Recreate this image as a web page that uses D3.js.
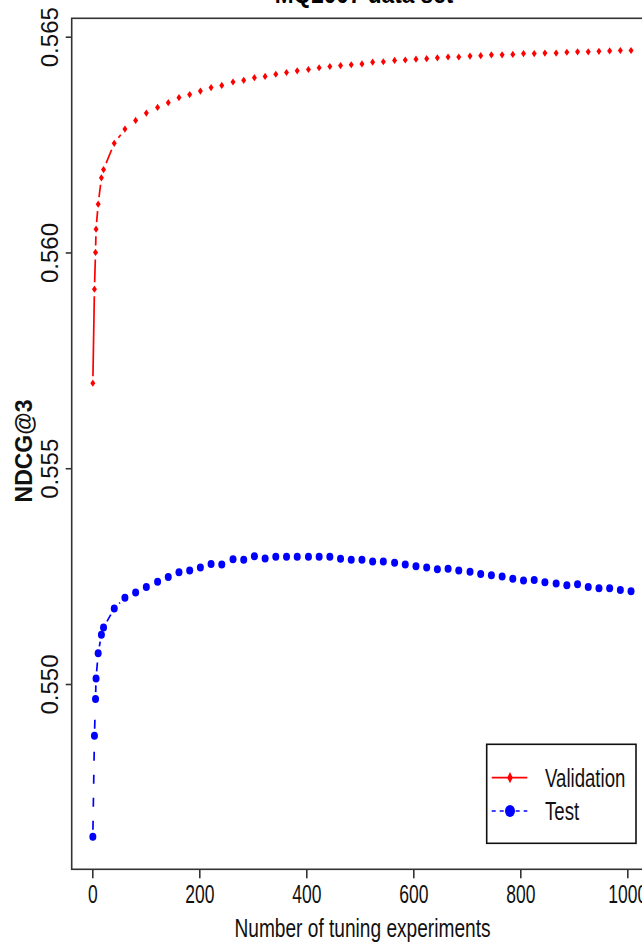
<!DOCTYPE html>
<html>
<head>
<meta charset="utf-8">
<script src="https://cdn.jsdelivr.net/npm/d3@7"></script>
<style>
  body { margin: 0; background: #fff; }
  svg { display: block; }
</style>
</head>
<body>
<script>
// size of the page
var width = 642;
var height = 945;

// number of tuning experiments at each plotted point
var experiments = [1, 4, 6, 7, 11, 17, 21,
    41, 61, 81, 101, 122, 142, 162, 182, 202, 222,
    242, 263, 283, 303, 323, 343, 363, 383, 404, 424,
    444, 464, 484, 504, 524, 544, 565, 585, 605, 625,
    645, 665, 685, 706, 726, 746, 766, 786, 806, 826,
    846, 867, 887, 907, 927, 947, 967, 987, 1007];

// NDCG@3 on the validation set
var validation = [0.55697, 0.55915, 0.56000, 0.56054, 0.56112, 0.56173, 0.56192,
    0.56253, 0.56286, 0.56306, 0.56323, 0.56336, 0.56347, 0.56359, 0.56366, 0.56374,
    0.56382, 0.56387, 0.56395, 0.56399, 0.56405, 0.56408, 0.56413, 0.56417, 0.56421, 0.56424,
    0.56428, 0.56431, 0.56433, 0.56435, 0.56437, 0.56441, 0.56442, 0.56445, 0.56446, 0.56448,
    0.56449, 0.56451, 0.56453, 0.56453, 0.56455, 0.56456, 0.56458, 0.56458, 0.56459, 0.56461,
    0.56461, 0.56462, 0.56462, 0.56464, 0.56465, 0.56465, 0.56466, 0.56467, 0.56468, 0.56468];

// NDCG@3 on the test set
var test = [0.54646, 0.54880, 0.54965, 0.55013, 0.55071, 0.55114, 0.55131,
    0.55175, 0.55200, 0.55212, 0.55225, 0.55237, 0.55248, 0.55259, 0.55263, 0.55270,
    0.55278, 0.55277, 0.55289, 0.55288, 0.55296, 0.55291, 0.55295, 0.55295, 0.55295, 0.55295,
    0.55295, 0.55295, 0.55290, 0.55288, 0.55288, 0.55284, 0.55284, 0.55281, 0.55277, 0.55273,
    0.55270, 0.55266, 0.55267, 0.55263, 0.55260, 0.55255, 0.55252, 0.55249, 0.55244, 0.55240,
    0.55241, 0.55236, 0.55233, 0.55229, 0.55231, 0.55225, 0.55222, 0.55222, 0.55218, 0.55215];

var xTicks = [0, 200, 400, 600, 800, 1000];
var yTicks = [0.550, 0.555, 0.560, 0.565];
var seriesNames = ["Validation", "Test"];

var titleText = "MQ2007 data set";
var xTitle = "Number of tuning experiments";
var yTitle = "NDCG@3";

// the picture is squeezed sideways, so the upright texts get a scaleX
var sans = "'Liberation Sans', Arial, Helvetica, sans-serif";

// plot box (right side runs off the page)
var box = {left: 71.7, top: 18.3, right: 700, bottom: 869.3};

var x = d3.scaleLinear().domain([0, 1000]).range([92.3, 627.3]);
var y = d3.scaleLinear().domain([0.550, 0.565]).range([684, 36.7]);

var svg = d3.select("body")
    .append("svg")
    .attr("width", width)
    .attr("height", height);

svg.append("rect")
    .attr("width", width)
    .attr("height", height)
    .attr("fill", "#fff");

// R type="b": segments between points, cut short near each point
var gap = 7;
function gapped(values) {
    var pts = experiments.map(function (e, i) { return [x(e), y(values[i])]; });
    var segs = [];
    d3.pairs(pts).forEach(function (p) {
        var dx = p[1][0] - p[0][0], dy = p[1][1] - p[0][1];
        var len = Math.sqrt(dx * dx + dy * dy);
        if (len <= 2 * gap) return;
        var ux = dx / len, uy = dy / len;
        segs.push([p[0][0] + ux * gap, p[0][1] + uy * gap, p[1][0] - ux * gap, p[1][1] - uy * gap]);
    });
    return segs;
}

var diamond = function (w, h) {
    return "M0," + (-h) + "L" + w + ",0L0," + h + "L" + (-w) + ",0Z";
};

// validation line + diamonds
svg.append("g").selectAll("line")
    .data(gapped(validation))
    .enter().append("line")
    .attr("x1", function (d) { return d[0]; })
    .attr("y1", function (d) { return d[1]; })
    .attr("x2", function (d) { return d[2]; })
    .attr("y2", function (d) { return d[3]; })
    .attr("stroke", "#ff0000")
    .attr("stroke-width", 1.7);

svg.append("g").selectAll("path")
    .data(validation)
    .enter().append("path")
    .attr("d", diamond(2.5, 3.6))
    .attr("transform", function (d, i) { return "translate(" + x(experiments[i]) + "," + y(d) + ")"; })
    .attr("fill", "#ff0000");

// test line + circles
svg.append("g").selectAll("line")
    .data(gapped(test))
    .enter().append("line")
    .attr("x1", function (d) { return d[0]; })
    .attr("y1", function (d) { return d[1]; })
    .attr("x2", function (d) { return d[2]; })
    .attr("y2", function (d) { return d[3]; })
    .attr("stroke", "#0000ff")
    .attr("stroke-width", 1.7)
    .attr("stroke-dasharray", "9,14");

svg.append("g").selectAll("ellipse")
    .data(test)
    .enter().append("ellipse")
    .attr("cx", function (d, i) { return x(experiments[i]); })
    .attr("cy", function (d) { return y(d); })
    .attr("rx", 3.5)
    .attr("ry", 4)
    .attr("fill", "#0000ff");

// box
svg.append("rect")
    .attr("x", box.left)
    .attr("y", box.top)
    .attr("width", box.right - box.left)
    .attr("height", box.bottom - box.top)
    .attr("fill", "none")
    .attr("stroke", "#333")
    .attr("stroke-width", 1.6);

// x axis
var xAxis = svg.append("g")
    .attr("transform", "translate(0," + box.bottom + ")")
    .call(d3.axisBottom(x).tickValues(xTicks).tickSize(9).tickFormat(d3.format("d")));
xAxis.select(".domain").remove();
xAxis.selectAll("line").attr("stroke", "#333").attr("stroke-width", 1.6);
xAxis.selectAll("text")
    .attr("y", 34)
    .attr("dy", null)
    .attr("transform", "scale(0.7,1)")
    .attr("fill", "#111")
    .style("font-family", sans)
    .style("font-size", "25px");

// y axis
var yAxis = svg.append("g")
    .attr("transform", "translate(" + box.left + ",0)")
    .call(d3.axisLeft(y).tickValues(yTicks).tickSize(6).tickFormat(d3.format(".3f")));
yAxis.select(".domain").remove();
yAxis.selectAll("line").attr("stroke", "#333").attr("stroke-width", 1.6);
yAxis.selectAll("text")
    .attr("x", 0)
    .attr("dy", null)
    .attr("transform", "translate(-13.4,0) rotate(-90)")
    .attr("text-anchor", "middle")
    .attr("fill", "#111")
    .style("font-family", sans)
    .style("font-size", "24px");

// titles
svg.append("text")
    .attr("transform", "translate(364,3) scale(0.87,1)")
    .attr("text-anchor", "middle")
    .style("font-family", sans)
    .style("font-weight", "bold")
    .style("font-size", "26px")
    .text(titleText);

svg.append("text")
    .attr("transform", "translate(362.5,936.5) scale(0.765,1)")
    .attr("text-anchor", "middle")
    .attr("fill", "#111")
    .style("font-family", sans)
    .style("font-size", "25px")
    .text(xTitle);

svg.append("text")
    .attr("transform", "translate(32,451) rotate(-90)")
    .attr("text-anchor", "middle")
    .attr("fill", "#111")
    .style("font-family", sans)
    .style("font-weight", "bold")
    .style("font-size", "23px")
    .text(yTitle);

// legend
var legend = svg.append("g");
legend.append("rect")
    .attr("x", 486.7)
    .attr("y", 744.3)
    .attr("width", 149.3)
    .attr("height", 99)
    .attr("fill", "#fff")
    .attr("stroke", "#111")
    .attr("stroke-width", 1.6);

var rows = legend.selectAll("g.row")
    .data(seriesNames)
    .enter().append("g")
    .attr("class", "row")
    .attr("transform", function (d, i) { return "translate(0," + (777.7 + i * 33.3) + ")"; });

rows.append("line")
    .attr("x1", 491.7)
    .attr("x2", 527.3)
    .attr("stroke", function (d, i) { return i === 0 ? "#ff0000" : "#0000ff"; })
    .attr("stroke-width", 1.7)
    .attr("stroke-dasharray", function (d, i) { return i === 0 ? null : "4,4"; });

rows.filter(function (d, i) { return i === 0; })
    .append("path")
    .attr("d", diamond(2.8, 5.6))
    .attr("transform", "translate(510,0)")
    .attr("fill", "#ff0000");

rows.filter(function (d, i) { return i === 1; })
    .append("ellipse")
    .attr("cx", 510)
    .attr("rx", 5)
    .attr("ry", 6)
    .attr("fill", "#0000ff");

rows.append("text")
    .attr("transform", "translate(545,9) scale(0.745,1)")
    .attr("fill", "#111")
    .style("font-family", sans)
    .style("font-size", "25px")
    .text(function (d) { return d; });
</script>
</body>
</html>
